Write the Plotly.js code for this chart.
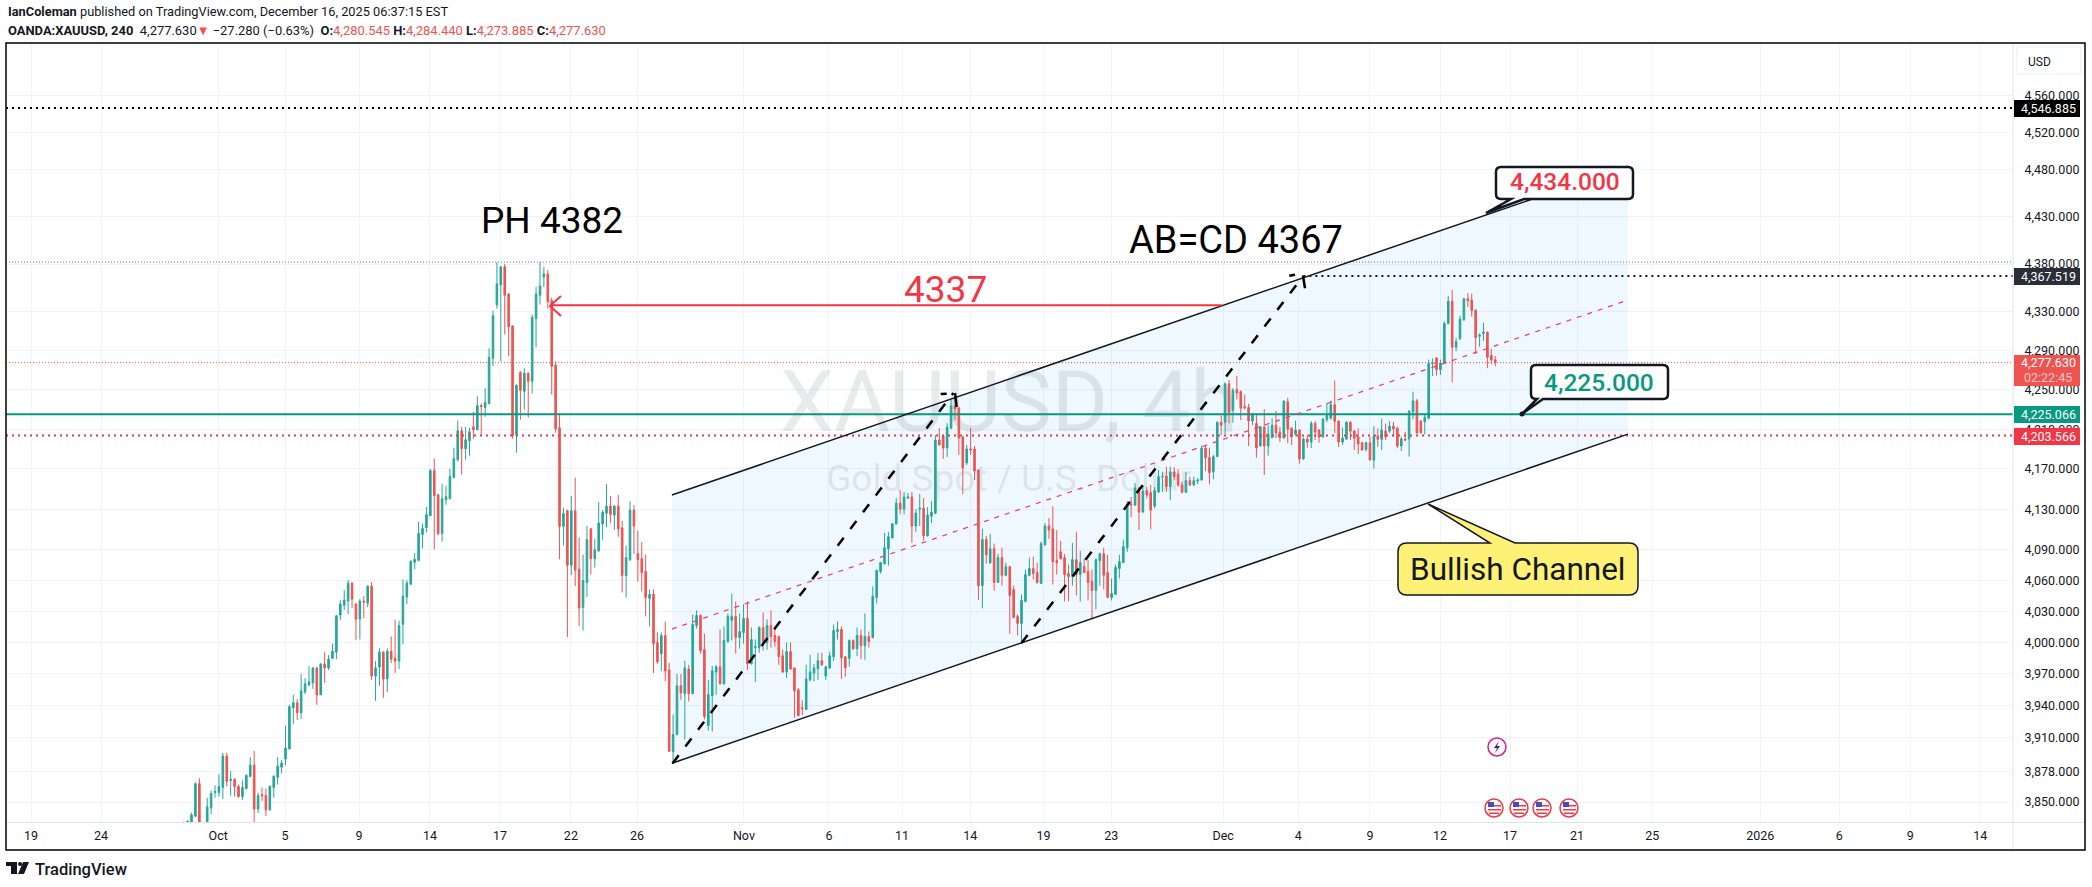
<!DOCTYPE html>
<html><head><meta charset="utf-8">
<script src="https://cdn.plot.ly/plotly-3.0.1.min.js"></script>
<style>html,body{margin:0;padding:0;background:#fff;overflow:hidden}#c{width:2092px;height:887px}</style>
</head><body><div id="c"></div>
<script>
const open=[3820,3830,3826,3837,3867,3815,3815,3844.6,3858.7,3858.7,
3863.4,3892.7,3870,3871,3864.4,3855,3862.5,3873.8,3884.2,3843.6,
3856.8,3855.9,3842.7,3863.4,3872.9,3882.3,3889.8,3899.3,3938,3942.7,
3933.2,3953,3959.6,3961.5,3975.7,3950.2,3979.4,3975.7,3985,3990.8,
4026.5,4036,4040,4057.4,4037.1,4022.6,4040,4038,4054.5,3968,
3976.6,3990.8,3965.3,3991.7,3985,3982.3,4017.7,4043.9,4056.5,4077.7,
4079.7,4105,4111.8,4123.5,4168.3,4144.3,4106,4139.3,4140.3,4161.3,
4179.3,4208.3,4190.3,4198.3,4212.3,4209.3,4233.9,4231.9,4236,4282.1,
4337.5,4358,4377,4348.5,4315.5,4204.3,4267.8,4248.3,4266.8,4258.5,
4323.1,4347.4,4366.4,4369.6,4341.7,4275,4211.3,4113,4128.4,4074.8,
4128.4,4070.9,4033.9,4058,4110.5,4081.3,4089,4115.3,4126,4133,
4124,4133,4111.5,4064.8,4080.3,4129,4086,4081.3,4068.7,4042.6,
4046.5,4000,3989.4,4006.8,3973.9,3897,3912.8,3958.8,3951.3,3974.8,
3951.3,4016.5,4026.1,3993.2,3921.3,3949.4,3971.9,3976.8,3960.6,4001,
4021.3,4025.2,4004.8,4009.7,4023.2,3979.7,3995.2,3995.2,4014.5,4000,
4016.5,4006.8,4005.8,3987.4,3971.9,3991.3,3975.8,3954.9,3938.1,3936.3,
3964.4,3970.9,3974.8,3982.6,3968.1,3975.8,3986.5,4010.6,4012.6,3986.5,
3985,4001.9,3994.2,4006.8,3997.1,4005.8,4004.8,4043.5,4068.7,4076.4,
4091,4101.7,4115.4,4136,4130,4141,4142,4113.4,4130,4131,
4103.7,4123.1,4126,4199,4203,4191,4211,4233.6,4231.5,4202,
4176,4190,4190,4169,4055,4100,4077.4,4091,4058,4082.3,
4065,4073.5,4051.3,4025.2,4018.4,4039.7,4065,4071.6,4067.7,4057,
4095,4113.4,4110.5,4079.3,4088,4082.3,4066.8,4063.9,4080.3,4065.8,
4073.5,4068.7,4059,4050.3,4079.3,4086,4067.7,4043.5,4046.5,4071.6,
4077.4,4092,4135,4134,4151,4127.3,4148.3,4146.3,4133,4147,
4162,4163,4152.3,4167,4165,4154,4146.7,4158.3,4154,4158,
4159,4191,4181.3,4167.3,4182.3,4217,4217,4256,4229,4250,
4248,4232.9,4231.9,4218.2,4215.8,4193,4212,4193,4201.3,4214,
4207,4201,4237.7,4211,4205,4209,4180,4200,4197,4215.8,
4209,4202,4219.7,4221,4234.6,4218,4197,4200,4217,4208,
4202,4196.3,4189.7,4196.3,4179,4203,4199.7,4208,4208,4213,
4211,4193,4200,4200,4227.4,4238.7,4218.2,4217.5,4221,4276.5,
4282.5,4270.5,4277,4318,4341,4293.4,4302.3,4321.8,4343.7,4342.3,
4331.7,4304.7,4307.6,4309,4285,4280.545];
const close=[3828,3832.3,3838,3867,3815,3810,3845.5,3857.8,3859.7,3864.4,
3892.7,3869,3871,3864.4,3855,3863.4,3874.7,3884.2,3843.6,3855.9,
3855.9,3842.7,3864.4,3873.8,3883.2,3886,3900.2,3938.9,3942.7,3933.2,
3954,3960.6,3962.5,3975.7,3950.2,3979.4,3975.7,3984.1,3991.7,4025.7,
4037.1,4041,4057.4,4041.9,4022.6,4040,4039,4054.5,3968,3975.7,
3990.8,3965.3,3991.7,3984.1,3982.3,4016.2,4044.8,4057.4,4078.6,4080.6,
4106,4110.8,4124.5,4168.3,4143.3,4106,4140.3,4142.3,4162.3,4180.3,
4208.3,4190.3,4199.3,4207.3,4209.3,4233.9,4232.9,4237,4283.2,4326.2,
4359,4377,4347.4,4314.5,4203.3,4254.4,4249.3,4266.8,4258.5,4324.2,
4348.5,4357,4369.6,4340.6,4274,4210.3,4113,4125.5,4074.8,4128.4,
4070,4033.2,4060,4099.8,4081.3,4090,4116.3,4127,4133,4125,
4133,4110.5,4064.8,4082.3,4129,4113.4,4080.3,4067.7,4043.5,4046.5,
3999,3981.6,4006.8,3972.9,3897,3912.8,3958.8,3952.2,3975.8,3951.3,
4017.4,4026.1,3992.3,3929.7,3950.3,3972.9,3976.8,3960.6,4002,4025.2,
4025.2,4004.8,4010.6,4023.2,3979.7,4002.9,3996.1,4014.5,4000,4016.5,
4005.8,4001,3986.5,3971.9,3991.3,3974.8,3954,3930.6,3937.2,3965.3,
3971.9,3975.8,3982.6,3978.7,3976.8,3987.4,4011.6,4012.6,3985.5,3976,
4002,3994.2,4006.8,3997.1,4005.8,4001,4044.5,4069.7,4077.4,4092,
4102.7,4115.4,4136,4130,4142,4142,4113.4,4126,4131,4103.7,
4124.1,4127,4199,4194,4191,4212,4233.6,4230.5,4201,4171,
4190,4189,4168,4055,4100,4085,4091,4058,4082.3,4065,
4073.5,4045.5,4024.2,4018.4,4040.6,4065.8,4071.6,4066.8,4058,4096,
4113.4,4109.5,4078.4,4077.4,4081.3,4065.8,4063.9,4080.3,4065.8,4077.4,
4067.7,4058,4050.3,4080.3,4086,4065,4043.5,4047.4,4072.6,4078.4,
4093,4134,4134,4151,4127,4148,4144,4129,4148.3,4162.3,
4162.3,4152.3,4167,4162.3,4154,4146.7,4158.3,4154,4158.3,4159,
4191,4181.3,4166.3,4182.3,4216.8,4214,4256,4227,4249.3,4246.6,
4231.2,4231.9,4218.2,4225.4,4191,4212.4,4193,4205,4214,4206.3,
4201.3,4238.4,4210,4202.3,4209,4180,4200,4197,4215.8,4207,
4202,4220,4224,4234.6,4218,4197,4201,4217,4208,4201,
4195,4189,4196.3,4179,4203,4199.7,4209,4202.3,4213,4210.3,
4193,4200,4199,4228.4,4238.7,4206,4206.3,4222,4277,4277,
4270.5,4277.3,4318,4341,4293.4,4299.2,4322.5,4343.7,4341.6,4331.4,
4303.3,4306,4309,4283,4280.4,4277.63];
const high=[3832,3833,3840,3868,3872,3828,3854,3860.6,3865.3,3875.7,
3895.5,3895.5,3878.5,3872,3866.2,3870,3875.5,3891.7,3897.4,3858.7,
3863.4,3862.5,3865.3,3874.7,3891.7,3888.9,3921,3940.8,3950.2,3946.4,
3970,3966,3977.5,3976.6,3976.6,3980.4,3990.8,3987.9,3999.2,4026.6,
4041,4050.6,4060.3,4058.4,4038,4041.9,4044.8,4055,4058.4,3982.3,
3994.5,3991.7,3994.5,4005.8,4021.9,4021,4061.2,4060.3,4079.6,4086.5,
4117.6,4115.7,4132.3,4170.3,4180.3,4145,4155.3,4153.3,4170.3,4191.3,
4218.5,4212.3,4212.3,4211.3,4227.7,4243.2,4236,4251.4,4292.4,4331.4,
4382,4378,4380,4349.5,4316,4255.5,4268.8,4271.9,4267.8,4327.3,
4355.9,4382,4377,4373.9,4344.8,4279.1,4225.7,4131.3,4129.4,4143.3,
4161.3,4102,4085.2,4113.4,4111.5,4100.7,4137,4129,4155,4143,
4134,4144,4118.3,4093.9,4137.8,4133.9,4108.5,4097.8,4085.2,4051.3,
4051.3,4009.7,4009.7,4020.3,3980.6,3931.6,3970,3970,3982.6,3978.7,
4027,4031,4027,4008.7,3964.4,3977.7,3978.7,4012.6,4015.5,4028,
4047.4,4039.7,4028,4036.8,4039.7,4014.5,4002.9,4015.5,4029,4022.3,
4031,4013.5,4006.2,3993.2,4000,4000,3976,3956.9,3945,3978.7,
3988.4,3979.7,3990.3,3990.3,3977.7,3991.3,4017.4,4020.3,4015.5,3987,
4003,4003,4014.5,4012.6,4028,4010.6,4054.2,4070.6,4078,4106.5,
4107.5,4116.3,4141,4149,4147,4146,4147,4130,4145,4141,
4132,4138,4204,4211,4204,4216,4239.7,4245,4232.5,4203,
4194,4211,4193,4169.5,4110.5,4103.7,4105.6,4096,4086,4092,
4077.4,4074,4055,4027,4046.5,4070.6,4082.3,4083.3,4077.4,4098,
4116.3,4121.3,4133,4109.5,4098.8,4086,4075.5,4096.8,4107.5,4089,
4081.3,4080.3,4070.6,4081.3,4087,4092,4085,4062,4075.5,4085,
4100,4138,4142,4156,4152,4154,4152,4154,4152,4169,
4167.3,4172.3,4172.3,4171.7,4169.7,4157.3,4167.3,4162.3,4162.3,4160.7,
4193.3,4193,4191.3,4184,4218,4223.7,4257.4,4260,4251.7,4264,
4249.3,4245,4235.6,4226,4225.4,4213,4230.2,4214,4221,4228.5,
4212.4,4239,4241.8,4211.7,4218.5,4209.5,4201.7,4204,4218,4218,
4210,4221.2,4236.7,4239,4259.3,4219,4211.7,4217.7,4218,4209,
4210.7,4197.3,4197.3,4202.3,4213,4210.7,4220.7,4215.7,4218,4217.3,
4212.3,4202.3,4207.3,4229,4248,4240.7,4219.2,4226,4280.8,4282,
4283,4280.8,4320.3,4346.6,4352.7,4303,4326,4344.4,4349.5,4349,
4332.7,4308,4318.7,4309.7,4292,4284.44];
const low=[3815,3825,3820,3836,3805,3800,3808,3839,3854,3855,
3853,3864.4,3855.9,3855,3854,3852,3861.5,3872.9,3825,3839.8,
3851,3837,3842,3854,3866.2,3876.6,3884.2,3899,3922.8,3926.6,
3927.6,3951,3958.7,3955.9,3940.8,3950,3961.5,3973.8,3984.1,3984.1,
4021.6,4031.3,4027.4,4033.2,4002.3,4003.2,4023.5,4034.2,3964.3,3944.5,
3958.7,3947.4,3953,3980.4,3971,3974.7,3998.4,4037.1,4055.5,4070.9,
4078.6,4091.3,4107,4123,4090.3,4104,4098.1,4134.3,4140,4161,
4177.3,4164.3,4179.3,4183.3,4200.3,4209,4203.3,4222.5,4235,4274,
4333.4,4279,4306.7,4284.2,4200.3,4186.3,4219.7,4229.8,4221.6,4246.2,
4293.4,4337.5,4355.9,4333.4,4245.2,4206.3,4080.6,4094.2,4005.2,4065.2,
4054.5,4015.8,4011.6,4044,4065.8,4072.6,4088,4099.8,4112.4,4116.3,
4109.5,4102.7,4048.4,4043.5,4079,4086,4059,4049.4,4025.2,4015.5,
3971,3979.7,3972.9,3963,3897,3886,3912,3945.6,3908,3943.8,
3951,4013.5,3989.4,3926.9,3916.6,3915.6,3950.3,3960,3960,4000,
4002,3989.4,3994.2,3999,3973.9,3979,3962.5,3990.3,3992.3,3993.2,
3995.2,3996.1,3978.7,3971,3966.2,3973.9,3928.8,3930,3931,3936,
3963,3963,3964.4,3977.7,3964.4,3974.8,3982.6,4002.9,3965.3,3967.5,
3977,3993,3987,3984,3983.5,3995.2,4004,4037.7,4066.8,4075.5,
4074.5,4101,4115,4125.1,4125,4140,4096.8,4107.5,4113.4,4098.8,
4103,4116.3,4125,4194,4180,4182,4210,4219,4184,4145,
4174,4184,4159,4041,4033,4076.5,4076,4050,4058,4055,
4064,4008.4,4023.2,4006.8,3999,4039,4064,4061,4057,4057,
4094,4100.7,4056,4065.8,4080.3,4039.7,4039.7,4055,4045.5,4039.7,
4067,4040.6,4022.3,4032,4055,4051.3,4043,4040.6,4046,4062,
4077,4088,4122,4133,4109.5,4126,4140.7,4110,4130.7,4146.3,
4147,4147.3,4139,4159,4152.3,4145.7,4146,4153,4153,4155,
4158.3,4168,4154.7,4159.7,4182,4204,4205,4215.8,4216.5,4240,
4219,4229.7,4193,4214,4181.3,4193,4164,4183.3,4201,4201,
4197,4201,4195.7,4194,4203,4175.3,4179,4191.3,4191,4199,
4196.3,4201.7,4217,4219.7,4206,4192,4194,4199,4199,4189,
4185,4188.5,4187.3,4178.5,4170.3,4192.3,4189,4199,4206.3,4202.3,
4190.7,4188,4198,4182.3,4220,4205.5,4205.7,4204.7,4220,4264,
4264.4,4265,4276,4317,4257.5,4289.3,4301,4320.7,4335,4325,
4286.6,4294,4300,4272,4276,4273.885];

const yTickValues=[4560,4520,4480,4430,4380,4330,4290,4250,4210,4170,4130,4090,4060,4030,4000,3970,3940,3910,3878,3850];
const xTickIndex=[-39,-21.1,8.8,25.9,44.8,62.9,80.8,98.9,115.8,143.1,164.8,183.5,200.9,219.6,236.9,265.5,284.7,303,320.9,338.8,355.9,375.1,402.7,422.9,441,458.9];
const xTickLabels=['19','24','Oct','5','9','14','17','22','26','Nov','6','11','14','19','23','Dec','4','9','12','17','21','25','2026','6','9','14'];

const channelIdx=[124.7,368.9];
const channelUpper=[4144,4484];
const channelMid=[4013,4342.3];
const channelLower=[3886,4205];
const legAB={x:[124.9,196.6],y:[3886,4246.6]};
const legCD={x:[214,286],y:[3999.6,4367.519]};
const arrow4337={x:[93.6,265.2],y:[4337,4337]};
const xRange=[-45.39,467.25];
const yRangePrices=[3831.6,4618.3];
const levelTop=4546.885, levelPH=4382, levelABCD=4367.519, levelLast=4277.63, levelGreen=4225.066, levelRed=4203.566;

const PL=6,PR=2013,PT=43,PB=822;
const X=p=>(p-PL)/(PR-PL), Y=p=>1-(p-PT)/(PB-PT);
const INK='#131722', RED='#f23645', GREEN='#089981', UP='#26a69a', DOWN='#ef5350';
const FONT='Roboto, sans-serif';

function hline(x0,x1,y,color,width,dash,z){return {type:'scatter',mode:'lines',x:[x0,x1],y:[y,y],line:{color,width,dash},hoverinfo:'skip',showlegend:false,zorder:z};}
const idx=open.map((_,i)=>i);
const traces=[
 {type:'scatter',mode:'lines',x:[channelIdx[0],channelIdx[1],channelIdx[1],channelIdx[0],channelIdx[0]],y:[channelUpper[0],channelUpper[1],channelLower[1],channelLower[0],channelUpper[0]],fill:'toself',fillcolor:'rgba(33,150,243,0.07)',line:{width:0,color:'rgba(0,0,0,0)'},hoverinfo:'skip',showlegend:false,zorder:-2},
 {type:'scatter',mode:'text',x:[210.8],y:[4230],text:['XAUUSD, 4h'],textfont:{family:FONT,size:86,color:'rgba(42,46,57,0.10)'},textposition:'middle center',hoverinfo:'skip',showlegend:false,zorder:-1},
 {type:'scatter',mode:'text',x:[210.8],y:[4157],text:['Gold Spot / U.S. Dollar'],textfont:{family:FONT,size:37,color:'rgba(42,46,57,0.10)'},textposition:'middle center',hoverinfo:'skip',showlegend:false,zorder:-1},
 {type:'candlestick',x:idx,open,high,low,close,whiskerwidth:0,
  increasing:{line:{color:UP,width:1},fillcolor:UP},decreasing:{line:{color:DOWN,width:1},fillcolor:DOWN},hoverinfo:'skip',showlegend:false,zorder:0},
 hline(xRange[0],xRange[1],levelPH,'#787b86',1,'1px,2px',1),
 hline(xRange[0],xRange[1],levelLast,DOWN,1,'1px,2px',1),
 hline(xRange[0],xRange[1],levelTop,'#000000',2,'2px,4px',1),
 hline(286,xRange[1],levelABCD,'#131722',2,'2px,4px',1),
 hline(xRange[0],xRange[1],levelRed,RED,2,'2px,4px',1),
 hline(xRange[0],xRange[1],levelGreen,GREEN,2,'solid',1),
 {type:'scatter',mode:'lines',x:channelIdx,y:channelUpper,line:{color:'#131722',width:1.5},hoverinfo:'skip',showlegend:false,zorder:2},
 {type:'scatter',mode:'lines',x:channelIdx,y:channelLower,line:{color:'#131722',width:1.5},hoverinfo:'skip',showlegend:false,zorder:2},
 {type:'scatter',mode:'lines',x:channelIdx,y:channelMid,line:{color:'#ec407a',width:1.25,dash:'5px,6px'},hoverinfo:'skip',showlegend:false,zorder:2},
 {type:'scatter',mode:'lines',x:legAB.x,y:legAB.y,line:{color:'#000',width:2.5,dash:'10px,11px'},hoverinfo:'skip',showlegend:false,zorder:3},
 {type:'scatter',mode:'lines',x:legCD.x,y:legCD.y,line:{color:'#000',width:2.5,dash:'10px,11px'},hoverinfo:'skip',showlegend:false,zorder:3},
 {type:'scatter',mode:'lines',x:arrow4337.x,y:arrow4337.y,line:{color:RED,width:2},hoverinfo:'skip',showlegend:false,zorder:3}
];

const shapes=[];
function P(p){return X(p[0]).toFixed(5)+','+Y(p[1]).toFixed(5);}
function poly(pts,opt,closed){shapes.push(Object.assign({type:'path',xref:'paper',yref:'paper',layer:'above',path:'M'+pts.map(P).join(' L')+(closed?' Z':'')},opt));}
function rect(x0,y0,x1,y1,fill,line,lw){shapes.push({type:'rect',xref:'paper',yref:'paper',layer:'above',x0:X(x0),x1:X(x1),y0:Y(y0),y1:Y(y1),fillcolor:fill,line:{color:line||'rgba(0,0,0,0)',width:lw||0}});}
function circ(cx,cy,r,fill,line,lw){shapes.push({type:'circle',xref:'paper',yref:'paper',layer:'above',x0:X(cx-r),x1:X(cx+r),y0:Y(cy-r),y1:Y(cy+r),fillcolor:fill,line:{color:line||'rgba(0,0,0,0)',width:lw||0}});}
function callout(x0,y0,x1,y1,r,tip,w0,w1,fill,line,lw,top){
 const q=(c,e)=>'Q'+P(c)+' '+P(e);
 const topEdge=top?' L'+P([w0,y0])+' L'+P(tip)+' L'+P([w1,y0]):'';
 const botEdge=top?'':' L'+P([w1,y1])+' L'+P(tip)+' L'+P([w0,y1]);
 const path='M'+P([x0+r,y0])+topEdge+' L'+P([x1-r,y0])+' '+q([x1,y0],[x1,y0+r])+' L'+P([x1,y1-r])+' '+q([x1,y1],[x1-r,y1])+botEdge+' L'+P([x0+r,y1])+' '+q([x0,y1],[x0,y1-r])+' L'+P([x0,y0+r])+' '+q([x0,y0],[x0+r,y0])+' Z';
 shapes.push({type:'path',xref:'paper',yref:'paper',layer:'above',path,fillcolor:fill,line:{color:line,width:lw}});
}
// arrow heads
poly([[940.7,394],[946.7,393.7]],{line:{color:'#000',width:2.5}});
poly([[955,393],[956.7,407]],{line:{color:'#000',width:2.5}});
poly([[1289.3,275.7],[1295,274.7]],{line:{color:'#000',width:2.5}});
poly([[1303,275.7],[1305,288.3]],{line:{color:'#000',width:2.5}});
poly([[561,296],[550,306],[561,316]],{line:{color:RED,width:2}});
// callouts
callout(1496,167,1633,199,5,[1486,213],1511,1524,'#fff','#131722',2.5);
callout(1531,365,1668,399,5,[1522,414],1537,1543,'#fff','#131722',2.5);
circ(1522,414,2.5,'#131722');
callout(1398,543,1638,595,9,[1428,504],1490,1515,'#fff176','#131722',1.5,true);
// right and bottom panes
shapes.push({type:'line',xref:'paper',yref:'paper',layer:'above',x0:X(2013),x1:X(2013),y0:Y(43),y1:Y(850),line:{color:'#e0e3eb',width:1}});
shapes.push({type:'line',xref:'paper',yref:'paper',layer:'above',x0:X(6),x1:X(2085),y0:Y(822.5),y1:Y(822.5),line:{color:'#e0e3eb',width:1}});
rect(2017,47,2081,74,'#fff','#f0f3fa',1.5);
// price tags
rect(2014,100,2080,117,'#000000');
rect(2014,268,2080,285,'#2a2e39');
rect(2014,355,2080,386,DOWN);
rect(2014,406,2080,423,GREEN);
rect(2014,428,2080,445,RED);
// outer frame
shapes.push({type:'rect',xref:'paper',yref:'paper',layer:'above',x0:X(6),x1:X(2085),y0:Y(850),y1:Y(43),line:{color:'#000',width:1.5},fillcolor:'rgba(0,0,0,0)'});
// logo
poly([[6,862],[17,862],[17,874],[11,874],[11,866],[6,866]],{fillcolor:INK,line:{width:0}},true);
circ(20,864,2,INK);
poly([[23,862],[29,862],[24,874],[18,874]],{fillcolor:INK,line:{width:0}},true);
// event icons
circ(1497,747,9,'#fff','#d81b9a',1.5);
poly([[1499,741],[1494,748],[1497,748],[1495,753],[1500,746],[1497,746]],{fillcolor:'#4a148c',line:{width:0}},true);
[1494,1519,1542,1569].forEach(cx=>{
 circ(cx,808,9,'#fff',RED,1.5);
 rect(cx-6,805,cx+7,806.5,RED); rect(cx-6,809,cx+7,810.5,RED); rect(cx-5,812.5,cx+5,814,RED);
 rect(cx-6,802,cx,807,'#3f51b5');
});

const annotations=[];
function T(x,y,text,o){o=o||{};annotations.push({xref:'paper',yref:'paper',x:X(x),y:Y(y),text,showarrow:false,xanchor:o.xa||'center',yanchor:'middle',align:o.xa||'center',font:{family:FONT,size:o.size||12.5,color:o.color||INK,weight:o.weight||400}});}
const R=DOWN;
T(6,12,'<b>IanColeman</b> published on TradingView.com, December 16, 2025 06:37:15 EST',{xa:'left',size:12.8});
T(6,30,`<b>OANDA:XAUUSD, 240</b>  4,277.630<span style="color:${R}">▼</span> −27.280 (−0.63%)  <b>O:</b><span style="color:${R}">4,280.545</span> <b>H:</b><span style="color:${R}">4,284.440</span> <b>L:</b><span style="color:${R}">4,273.885</span> <b>C:</b><span style="color:${R}">4,277.630</span>`,{xa:'left',size:12.95});
T(33,869,'TradingView',{xa:'left',size:16.5,weight:500});
T(2026,62,'USD',{xa:'left',size:12});
T(552,220,'PH 4382',{size:37,color:'#000'});
T(1236,240,'AB=CD 4367',{size:38,color:'#000'});
T(945,289,'4337',{size:37,color:RED});
T(1565,182,'4,434.000',{size:24.5,color:RED,weight:500});
T(1599,382,'4,225.000',{size:24.5,color:GREEN,weight:500});
T(1518,569,'Bullish Channel',{size:31.5,color:INK});
const W='#ffffff';
T(2048,108.5,'4,546.885',{color:W});
T(2048,276.5,'4,367.519',{color:W});
T(2048,362.8,'4,277.630',{color:W});
T(2048,377,'02:22:45',{color:'#fbc8c7'});
T(2048,414.5,'4,225.066',{color:W});
T(2048,436.5,'4,203.566',{color:W});

const layout={
 width:2092,height:887,margin:{l:PL,r:2092-PR,t:PT,b:887-PB,pad:0},
 paper_bgcolor:'#fff',plot_bgcolor:'#fff',showlegend:false,boxgap:0.42,
 xaxis:{type:'linear',range:xRange,tickmode:'array',tickvals:xTickIndex,ticktext:xTickLabels,
  showgrid:true,gridcolor:'#f0f3fa',gridwidth:1,zeroline:false,showline:false,ticks:'outside',ticklen:2,tickcolor:'rgba(0,0,0,0)',
  tickfont:{family:FONT,size:12.5,color:INK},rangeslider:{visible:false},automargin:false},
 yaxis:{type:'log',side:'right',range:yRangePrices.map(Math.log10),tickmode:'array',tickvals:yTickValues,
  ticktext:yTickValues.map(v=>v.toLocaleString('en-US',{minimumFractionDigits:3})),
  showgrid:true,gridcolor:'#f0f3fa',gridwidth:1,zeroline:false,showline:false,ticks:'outside',ticklen:8,tickcolor:'rgba(0,0,0,0)',
  tickfont:{family:FONT,size:12.5,color:INK},automargin:false},
 shapes,annotations
};
Plotly.newPlot('c',traces,layout,{staticPlot:true,displayModeBar:false});
</script></body></html>
